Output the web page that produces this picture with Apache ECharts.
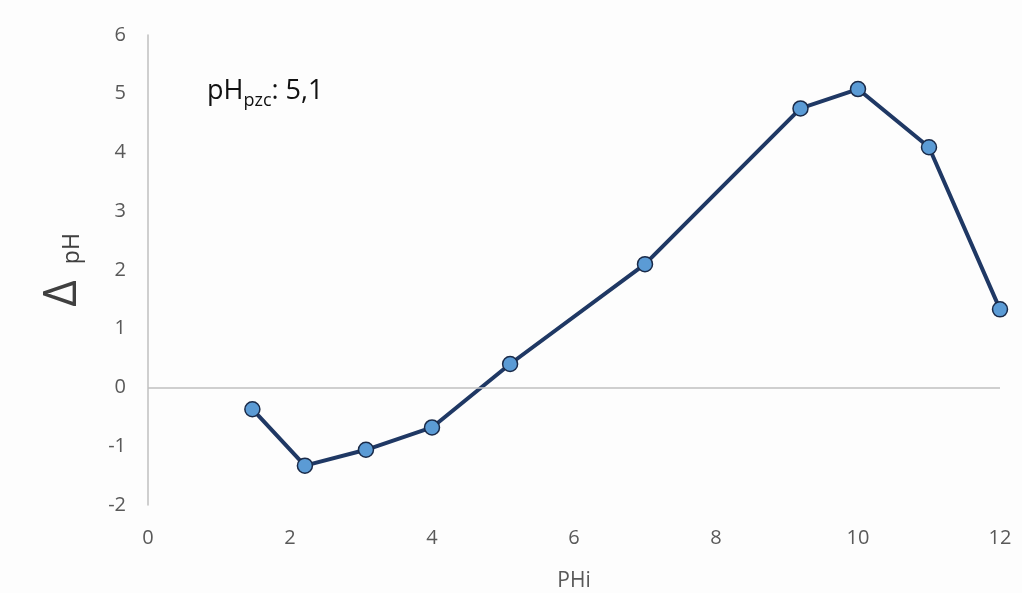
<!DOCTYPE html>
<html>
<head>
<meta charset="utf-8">
<script src="https://cdn.jsdelivr.net/npm/echarts@6/dist/echarts.min.js"></script>
<style>
  html, body { margin: 0; padding: 0; background: #fdfdfd; }
  #chart { width: 1022px; height: 593px; }
</style>
</head>
<body>
<div id="chart"></div>
<script>
// Initial pH (PHi) and the resulting pH change
const phInitial = [1.47, 2.21, 3.07, 4.0, 5.1, 7.0, 9.19, 10.0, 11.0, 12.0];
const phDelta   = [-0.37, -1.33, -1.06, -0.68, 0.40, 2.10, 4.75, 5.08, 4.09, 1.33];
const xTicks = [0, 2, 4, 6, 8, 10, 12];
const yTicks = [-2, -1, 0, 1, 2, 3, 4, 5, 6];
const pzcLabel = '5,1';

const points = phInitial.map((x, i) => [x, phDelta[i]]);
const FONT = '"Open Sans", "Liberation Sans", sans-serif';

const chart = echarts.init(document.getElementById('chart'), null, { renderer: 'canvas' });
chart.setOption({
  backgroundColor: '#fdfdfd',
  animation: false,
  grid: { left: 148, right: 22, top: 35, bottom: 88, containLabel: false, outerBoundsMode: 'none' },
  xAxis: {
    type: 'value',
    min: xTicks[0],
    max: xTicks[xTicks.length - 1],
    interval: 2,
    name: 'PHi',
    nameLocation: 'middle',
    nameGap: 66,
    nameTextStyle: { fontFamily: FONT, fontSize: 21, color: '#595959' },
    axisLine: { show: false },
    axisTick: { show: false },
    splitLine: { show: false },
    axisLabel: { fontFamily: FONT, fontSize: 20, color: '#595959', margin: 23 }
  },
  yAxis: {
    type: 'value',
    min: yTicks[0],
    max: yTicks[yTicks.length - 1],
    interval: 1,
    name: '{d|Δ}{p|pH}',
    nameLocation: 'middle',
    nameRotate: 90,
    nameGap: 62,
    nameTextStyle: {
      rich: {
        d: { fontFamily: FONT, fontSize: 46, color: '#404040', verticalAlign: 'bottom', padding: [0, 16, 0, 0] },
        p: { fontFamily: FONT, fontSize: 23, color: '#404040', verticalAlign: 'bottom', padding: [0, 0, 2, 0] }
      }
    },
    axisLine: { show: true, lineStyle: { color: '#bfbfbf', width: 1.5 } },
    axisTick: { show: false },
    splitLine: { show: false },
    axisLabel: { fontFamily: FONT, fontSize: 20, color: '#595959', margin: 22 }
  },
  graphic: [{
    type: 'text',
    left: 207,
    top: 78,
    style: {
      text: '{n|pH}{s|pzc}{n|: ' + pzcLabel + '}',
      rich: {
        n: { fontFamily: FONT, fontSize: 27, fill: '#111111', verticalAlign: 'bottom' },
        s: { fontFamily: FONT, fontSize: 18, fill: '#111111', verticalAlign: 'bottom', padding: [0, 0, -5, 0] }
      }
    }
  }],
  series: [{
    type: 'line',
    data: points,
    lineStyle: { color: '#1f3864', width: 4 },
    symbol: 'circle',
    symbolSize: 15,
    itemStyle: { color: '#5b9bd5', borderColor: '#1a2a48', borderWidth: 1.5 },
    markLine: {
      silent: true,
      symbol: 'none',
      label: { show: false },
      lineStyle: { color: '#bfbfbf', width: 1.5, type: 'solid' },
      data: [{ yAxis: 0 }]
    },
    z: 3
  }]
});
</script>
</body>
</html>
